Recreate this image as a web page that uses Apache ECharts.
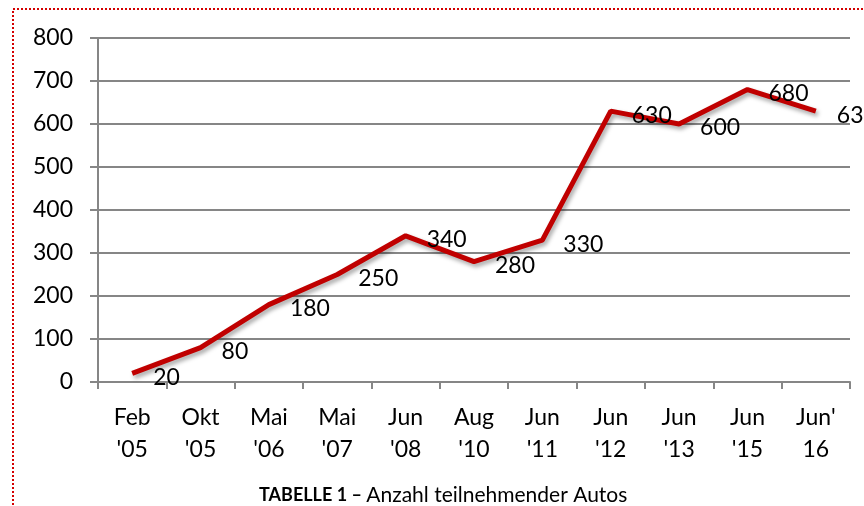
<!DOCTYPE html>
<html>
<head>
<meta charset="utf-8">
<script src="https://cdn.jsdelivr.net/npm/echarts@6/dist/echarts.min.js"></script>
<style>
  html, body { margin: 0; padding: 0; background: #fff; }
  #chart { width: 864px; height: 506px; }
</style>
</head>
<body>
<div id="chart"></div>
<script>
const categories = ["Feb\n'05", "Okt\n'05", "Mai\n'06", "Mai\n'07", "Jun\n'08", "Aug\n'10", "Jun\n'11", "Jun\n'12", "Jun\n'13", "Jun\n'15", "Jun'\n16"]
const autos = [20, 80, 180, 250, 340, 280, 330, 630, 600, 680, 630]
const yTicks = { min: 0, max: 800, interval: 100 }

const chart = echarts.init(document.getElementById('chart'))
const fontFamily = 'Lato, "Open Sans", sans-serif'
const gray = '#868686'

chart.setOption({
  animation: false,
  textStyle: { fontFamily: fontFamily },
  graphic: [
    {
      type: 'rect',
      shape: { x: 13, y: 9, width: 900, height: 600 },
      style: { fill: 'none', stroke: '#d40000', lineWidth: 2, lineDash: [2, 2] }
    }
  ],
  title: {
    text: '{b|TABELLE 1 –} {n|Anzahl teilnehmender Autos}',
    left: 259,
    top: 485,
    padding: 0,
    textStyle: {
      rich: {
        b: { fontFamily: fontFamily, fontSize: 18, fontWeight: 'bold', color: '#000' },
        n: { fontFamily: fontFamily, fontSize: 21, fontWeight: 'normal', color: '#000' }
      }
    }
  },
  grid: { left: 98, right: 14, top: 38, bottom: 124 },
  xAxis: {
    type: 'category',
    data: categories,
    axisLine: { lineStyle: { color: gray, width: 2 } },
    axisTick: { show: true, length: 7, lineStyle: { color: gray, width: 2 } },
    axisLabel: { color: '#000', fontSize: 23, lineHeight: 32, margin: 20, interval: 0 }
  },
  yAxis: {
    type: 'value',
    min: yTicks.min,
    max: yTicks.max,
    interval: yTicks.interval,
    axisLine: { show: true, lineStyle: { color: gray, width: 2 } },
    axisTick: { show: true, length: 8, lineStyle: { color: gray, width: 2 } },
    splitLine: { lineStyle: { color: gray, width: 2 } },
    axisLabel: { color: '#000', fontSize: 23, margin: 25 }
  },
  series: [
    {
      type: 'line',
      data: autos,
      symbol: 'circle',
      symbolSize: 2,
      showSymbol: true,
      itemStyle: { color: 'rgba(192,0,0,0)', borderWidth: 0 },
      lineStyle: {
        color: '#c00000',
        width: 5,
        shadowColor: 'rgba(0,0,0,0.35)',
        shadowBlur: 4,
        shadowOffsetX: 2,
        shadowOffsetY: 3
      },
      label: {
        show: true,
        position: [22, 5],
        align: 'left',
        verticalAlign: 'middle',
        color: '#000',
        fontSize: 23
      },
      labelLayout: { hideOverlap: false }
    }
  ]
})
</script>
</body>
</html>
